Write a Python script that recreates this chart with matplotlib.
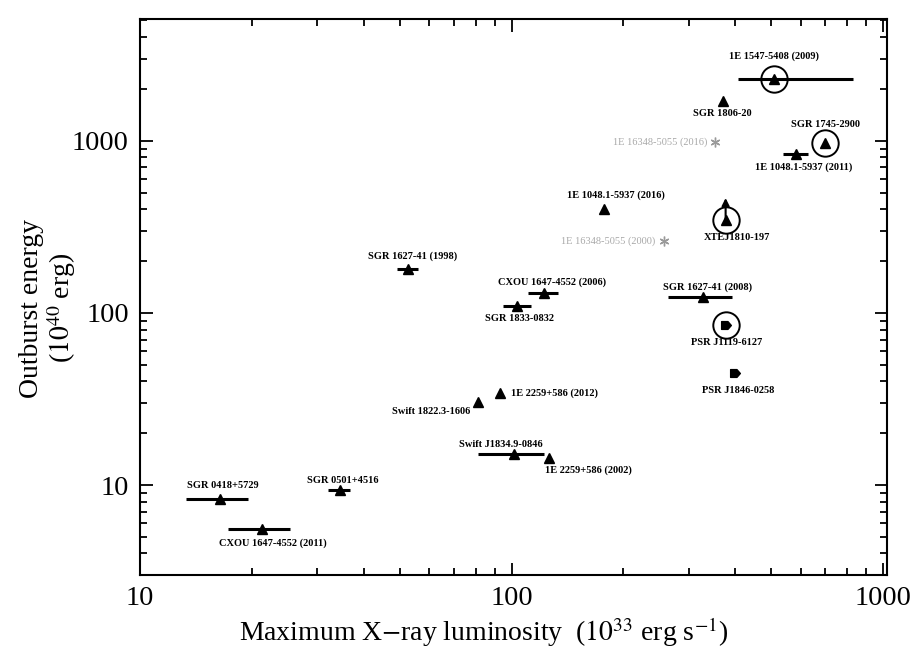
import matplotlib
matplotlib.use("Agg")
import matplotlib.pyplot as plt
from matplotlib.path import Path
from matplotlib.ticker import NullFormatter

plt.rcParams['font.family'] = ['Liberation Serif', 'DejaVu Serif']
plt.rcParams['mathtext.fontset'] = 'stix'

# Magnetar outbursts: name, peak luminosity (1e33 erg/s), energy (1e40 erg)
names = [
    "1E 1547-5408 (2009)", "SGR 1806-20", "SGR 1745-2900", "1E 1048.1-5937 (2011)",
    "1E 1048.1-5937 (2016)", "XTEJ1810-197", "CXOU 1647-4552 (2006)", "SGR 1833-0832",
    "SGR 1627-41 (1998)", "SGR 1627-41 (2008)", "PSR J1119-6127", "PSR J1846-0258",
    "1E 2259+586 (2012)", "Swift 1822.3-1606", "Swift J1834.9-0846", "1E 2259+586 (2002)",
    "SGR 0418+5729", "SGR 0501+4516", "CXOU 1647-4552 (2011)",
]
lum = [509, 370, 698, 583, 177, 377, 122, 103.5, 52.8, 327, 379, 400,
       93.4, 81.0, 101.4, 126, 16.4, 34.6, 21.3]
lum_lo = [406, 370, 698, 537, 177, 377, 111, 95.1, 49.2, 263, 379, 400,
          93.4, 81.0, 81.0, 126, 13.3, 32.1, 17.2]
lum_hi = [828, 370, 698, 628, 177, 377, 133, 113, 56.0, 392, 379, 400,
          93.4, 81.0, 122, 126, 19.5, 36.8, 25.4]
energy = [2290, 1707, 974, 841, 403, 348, 130, 110, 181, 123, 84.7, 44.6,
          34.1, 30.3, 15.1, 14.4, 8.3, 9.35, 5.56]
kind = ["tri"] * 10 + ["psr", "psr"] + ["tri"] * 7
circled = ["1E 1547-5408 (2009)", "SGR 1745-2900", "XTEJ1810-197", "PSR J1119-6127"]

# XTE J1810-197: energy is a lower limit
limit_name = "XTEJ1810-197"
limit_top = 465

# High-B pulsar 1E 1634.8-5055 (grey)
gray_names = ["1E 16348-5055 (2016)", "1E 16348-5055 (2000)"]
gray_lum = [354, 258]
gray_energy = [987, 260]

# label offsets in pixels (dx, dy, ha)
label_pos = {
    "1E 1547-5408 (2009)": (0, 23, "center"),
    "SGR 1806-20": (0, -13, "center"),
    "SGR 1745-2900": (0, 18, "center"),
    "1E 1048.1-5937 (2011)": (8, -13, "center"),
    "1E 1048.1-5937 (2016)": (12, 14, "center"),
    "XTEJ1810-197": (11, -18, "center"),
    "CXOU 1647-4552 (2006)": (8, 11, "center"),
    "SGR 1833-0832": (2, -13, "center"),
    "SGR 1627-41 (1998)": (4, 12, "center"),
    "SGR 1627-41 (2008)": (5, 10, "center"),
    "PSR J1119-6127": (0, -17, "center"),
    "PSR J1846-0258": (3, -17, "center"),
    "1E 2259+586 (2012)": (11, 0, "left"),
    "Swift 1822.3-1606": (-7, -9, "right"),
    "Swift J1834.9-0846": (-13, 10, "center"),
    "1E 2259+586 (2002)": (-4, -12, "left"),
    "SGR 0418+5729": (3, 13, "center"),
    "SGR 0501+4516": (2, 10, "center"),
    "CXOU 1647-4552 (2011)": (11, -14, "center"),
    "1E 16348-5055 (2016)": (-8, 0, "right"),
    "1E 16348-5055 (2000)": (-9, 0, "right"),
}

psr_marker = Path([(-1, -0.8), (0.3, -0.8), (1, 0), (0.3, 0.8), (-1, 0.8), (-1, -0.8)],
                  [Path.MOVETO] + [Path.LINETO] * 4 + [Path.CLOSEPOLY])

fig = plt.figure(figsize=(9.12, 6.51), dpi=100)
ax = fig.add_axes([140 / 912, 76 / 651, 747 / 912, 556 / 651])
ax.set_xscale("log")
ax.set_yscale("log")
ax.set_xlim(10, 1025)
ax.set_ylim(3, 5100)

for n, x, lo, hi, y, k in zip(names, lum, lum_lo, lum_hi, energy, kind):
    if hi > lo:
        ax.plot([lo, hi], [y, y], color="black", lw=2.2, solid_capstyle="butt", zorder=2)
    if n == limit_name:
        ax.annotate("", xy=(x, limit_top), xytext=(x, y),
                    arrowprops=dict(arrowstyle="-|>", color="black", lw=1.5,
                                    mutation_scale=11, shrinkA=0, shrinkB=0), zorder=3)
    if k == "tri":
        ax.plot(x, y, marker="^", ms=7, color="black", ls="none", zorder=3)
    else:
        ax.plot(x, y, marker=psr_marker, ms=7, color="black", ls="none", zorder=3)
    if n in circled:
        ax.plot(x, y, marker="o", ms=19, mfc="none", mec="black", mew=1.4, ls="none", zorder=3)
    dx, dy, ha = label_pos[n]
    ax.annotate(n, (x, y), xytext=(dx, dy), textcoords="offset pixels",
                ha=ha, va="center", fontsize=7.5, fontweight="bold", color="black")

for n, x, y in zip(gray_names, gray_lum, gray_energy):
    ax.plot(x, y, marker=(6, 2, 0), ms=7, color="#9a9a9a", mew=1.0, ls="none", zorder=3)
    dx, dy, ha = label_pos[n]
    ax.annotate(n, (x, y), xytext=(dx, dy), textcoords="offset pixels",
                ha=ha, va="center", fontsize=7.5, color="#a8a8a8")

ax.tick_params(which="both", direction="in", top=True, right=True, width=1.3)
ax.tick_params(which="major", length=9, labelsize=20.5, pad=8)
ax.tick_params(which="minor", length=5)
for s in ax.spines.values():
    s.set_linewidth(1.5)

ax.set_xticks([10, 100, 1000])
ax.set_xticklabels(["10", "100", "1000"])
ax.set_yticks([10, 100, 1000])
ax.set_yticklabels(["10", "100", "1000"])
ax.yaxis.set_minor_formatter(NullFormatter())
ax.xaxis.set_minor_formatter(NullFormatter())

ax.set_xlabel(r"Maximum X$-$ray luminosity  ($10^{33}$ erg s$^{-1}$)", fontsize=20, labelpad=6)
ax.xaxis.set_label_coords(0.46, -0.072, transform=ax.transAxes)
ax.xaxis.label.set_va("top")
ax.set_ylabel("Outburst energy\n($10^{40}$ erg)", fontsize=20, linespacing=1.05)
ax.yaxis.set_label_coords(-0.083, 0.48)

fig.savefig("out.png", dpi=100)
